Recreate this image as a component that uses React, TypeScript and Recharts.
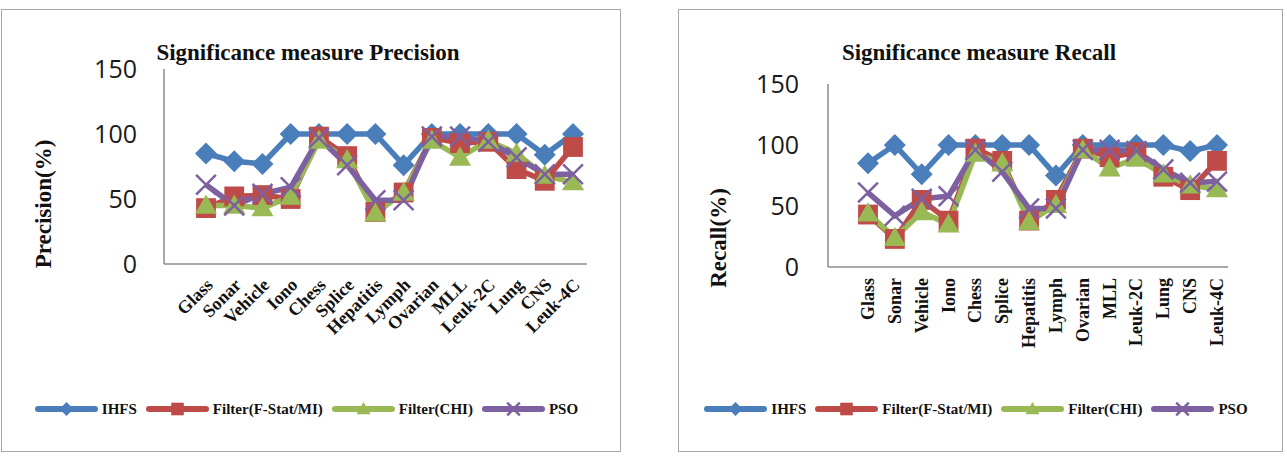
import { LineChart, Line, XAxis, YAxis, Legend } from 'recharts'

const categories = ['Glass', 'Sonar', 'Vehicle', 'Iono', 'Chess', 'Splice', 'Hepatitis', 'Lymph', 'Ovarian', 'MLL', 'Leuk-2C', 'Lung', 'CNS', 'Leuk-4C']

// precision (%) per dataset
const ihfsPrecision = [85, 79, 77, 100, 100, 100, 100, 76, 100, 100, 100, 100, 84, 100]
const fstatPrecision = [43, 52, 53, 50, 98, 83, 40, 55, 97, 93, 94, 73, 64, 90]
const chiPrecision = [45, 45, 43, 52, 95, 80, 39, 55, 95, 82, 95, 85, 68, 63]
const psoPrecision = [61, 45, 54, 59, 97, 76, 49, 49, 98, 98, 94, 82, 69, 69]

// recall (%) per dataset
const ihfsRecall = [85, 100, 76, 100, 100, 100, 100, 75, 100, 100, 100, 100, 95, 100]
const fstatRecall = [43, 23, 55, 38, 97, 87, 38, 55, 97, 90, 94, 74, 63, 87]
const chiRecall = [44, 24, 45, 35, 93, 85, 37, 51, 96, 81, 89, 76, 67, 64]
const psoRecall = [61, 42, 56, 58, 96, 78, 48, 48, 96, 96, 95, 80, 69, 70]

const yTicks = [0, 50, 100, 150]

const series = [
    { key: 'ihfs', name: 'IHFS', color: '#4a7ebb', shape: 'diamond' },
    { key: 'fstat', name: 'Filter(F-Stat/MI)', color: '#be4b48', shape: 'square' },
    { key: 'chi', name: 'Filter(CHI)', color: '#98b954', shape: 'triangle' },
    { key: 'pso', name: 'PSO', color: '#7d60a0', shape: 'cross' },
]

const SERIF = '"Liberation Serif", "Times New Roman", serif'
const SANS = '"Open Sans", "Noto Sans", sans-serif'

function buildRows(ihfs: number[], fstat: number[], chi: number[], pso: number[]) {
    return categories.map((name, i) => ({ name, ihfs: ihfs[i], fstat: fstat[i], chi: chi[i], pso: pso[i] }))
}

function Marker({ shape, cx, cy, color, r }: { shape: string; cx: number; cy: number; color: string; r: number }) {
    if (shape === 'diamond') {
        return <polygon points={`${cx},${cy - r} ${cx + r},${cy} ${cx},${cy + r} ${cx - r},${cy}`} fill={color} />
    }
    if (shape === 'square') {
        return <rect x={cx - r * 0.9} y={cy - r * 0.9} width={r * 1.8} height={r * 1.8} fill={color} />
    }
    if (shape === 'triangle') {
        return <polygon points={`${cx},${cy - r} ${cx + r},${cy + r * 0.75} ${cx - r},${cy + r * 0.75}`} fill={color} />
    }
    const d = r * 0.9
    return (
        <g stroke={color} strokeWidth={2.5}>
            <line x1={cx - d} y1={cy - d} x2={cx + d} y2={cy + d} />
            <line x1={cx - d} y1={cy + d} x2={cx + d} y2={cy - d} />
        </g>
    )
}

// legend keeps the series order (IHFS first)
function LegendRow() {
    return (
        <div style={{ display: 'flex', justifyContent: 'center', alignItems: 'center' }}>
            {series.map((s) => (
                <div key={s.key} style={{ display: 'flex', alignItems: 'center', marginRight: 9 }}>
                    <svg width={63} height={18}>
                        <line x1={3} y1={9} x2={60} y2={9} stroke={s.color} strokeWidth={6} strokeLinecap="round" />
                        <Marker shape={s.shape} cx={31.5} cy={9} color={s.color} r={7} />
                    </svg>
                    <span style={{ marginLeft: 4, fontFamily: SERIF, fontWeight: 'bold', fontSize: 15, color: '#111' }}>
                        {s.name}
                    </span>
                </div>
            ))}
        </div>
    )
}

function SlantTick({ x, y, payload }: any) {
    return (
        <g transform={`translate(${x + 8},${y + 22})`}>
            <text textAnchor="end" transform="rotate(-45)" fontFamily={SERIF} fontWeight="bold" fontSize={18} fill="#111">
                {payload.value}
            </text>
        </g>
    )
}

function UprightTick({ x, y, payload }: any) {
    return (
        <g transform={`translate(${x + 6},${y + 11})`}>
            <text textAnchor="end" transform="rotate(-90)" fontFamily={SERIF} fontWeight="bold" fontSize={18} fill="#111">
                {payload.value}
            </text>
        </g>
    )
}

function AxisTitle({ text, tx, ty }: { text: string; tx: number; ty: number }) {
    return (
        <text
            x={tx}
            y={ty}
            transform={`rotate(-90, ${tx}, ${ty})`}
            textAnchor="middle"
            dominantBaseline="central"
            fontFamily={SERIF}
            fontWeight="bold"
            fontSize={23}
            fill="#111"
        >
            {text}
        </text>
    )
}

interface PanelProps {
    rows: any[]
    yLabel: string
    width: number
    margin: { top: number; right: number; bottom: number; left: number }
    padding: { left: number; right: number }
    tick: any
    tickMargin: number
    titlePos: { x: number; y: number }
    legendBox: { left: number; width: number }
}

function Panel({ rows, yLabel, width, margin, padding, tick, tickMargin, titlePos, legendBox }: PanelProps) {
    return (
        <LineChart width={width} height={466} data={rows} margin={margin}>
            <XAxis
                dataKey="name"
                interval={0}
                height={30}
                padding={padding}
                tickLine={false}
                tickSize={0}
                tickMargin={0}
                tick={tick}
                axisLine={{ stroke: '#8c8c8c', strokeWidth: 1.5 }}
            />
            <YAxis
                domain={[0, 150]}
                ticks={yTicks}
                width={60}
                tickLine={false}
                tickSize={0}
                tickMargin={tickMargin}
                axisLine={{ stroke: '#8c8c8c', strokeWidth: 1.5 }}
                tick={{ fontFamily: SANS, fontSize: 25, fill: '#1a1a1a' }}
                label={(_: any) => <AxisTitle text={yLabel} tx={titlePos.x} ty={titlePos.y} />}
            />
            <Legend
                layout="horizontal"
                verticalAlign="middle"
                align="center"
                content={<LegendRow />}
                wrapperStyle={{ top: 400, left: legendBox.left, width: legendBox.width, height: 20 }}
            />
            {series.map((s) => (
                <Line
                    key={s.key}
                    dataKey={s.key}
                    name={s.name}
                    stroke={s.color}
                    strokeWidth={5.5}
                    isAnimationActive={false}
                    activeDot={false}
                    dot={(p: any) => (
                        <Marker key={`${s.key}-${p.index}`} shape={s.shape} cx={p.cx} cy={p.cy} color={s.color} r={11} />
                    )}
                />
            ))}
        </LineChart>
    )
}

const boxStyle: React.CSSProperties = {
    position: 'absolute',
    top: 9,
    height: 443,
    boxSizing: 'border-box',
    border: '1.5px solid #a8a8a8',
    background: '#fff',
}

const titleStyle: React.CSSProperties = {
    position: 'absolute',
    top: 39,
    textAlign: 'center',
    fontFamily: SERIF,
    fontWeight: 'bold',
    fontSize: 23,
    lineHeight: '28px',
    color: '#111',
}

export default function App() {
    const precisionRows = buildRows(ihfsPrecision, fstatPrecision, chiPrecision, psoPrecision)
    const recallRows = buildRows(ihfsRecall, fstatRecall, chiRecall, psoRecall)

    return (
        <div style={{ position: 'absolute', left: 0, top: 0, width: 1287, height: 466, background: '#fff', overflow: 'hidden' }}>
            <div style={{ ...boxStyle, left: 1, width: 620 }} />
            <div style={{ ...boxStyle, left: 678, width: 605 }} />

            <div style={{ ...titleStyle, left: 0, width: 616 }}>Significance measure Precision</div>
            <div style={{ ...titleStyle, left: 678, width: 602 }}>Significance measure Recall</div>

            <div style={{ position: 'absolute', left: 0, top: 0 }}>
                <Panel
                    rows={precisionRows}
                    yLabel="Precision(%)"
                    width={640}
                    margin={{ top: 69, right: 53, bottom: 172, left: 104 }}
                    padding={{ left: 42, right: 14 }}
                    tick={<SlantTick />}
                    tickMargin={27}
                    titlePos={{ x: 43, y: 204 }}
                    legendBox={{ left: 1, width: 620 }}
                />
            </div>
            <div style={{ position: 'absolute', left: 640, top: 0 }}>
                <Panel
                    rows={recallRows}
                    yLabel="Recall(%)"
                    width={647}
                    margin={{ top: 84, right: 59, bottom: 169, left: 128 }}
                    padding={{ left: 40, right: 11 }}
                    tick={<UprightTick />}
                    tickMargin={29}
                    titlePos={{ x: 78, y: 238 }}
                    legendBox={{ left: 38, width: 605 }}
                />
            </div>
        </div>
    )
}
